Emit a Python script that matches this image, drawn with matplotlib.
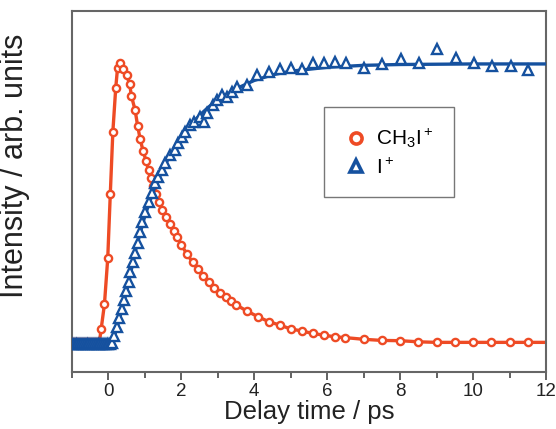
import matplotlib
matplotlib.use("Agg")
import matplotlib.pyplot as plt
from matplotlib.lines import Line2D
from matplotlib.ticker import MultipleLocator

plt.rcParams['font.family'] = ['Liberation Sans', 'DejaVu Sans']
plt.rcParams['mathtext.default'] = 'regular'

RED = '#EE4B25'
BLUE = '#15519F'

# CH3I+ parent ion yield vs. pump-probe delay (normalised)
ch3i_t = [-1.0, -0.95, -0.9, -0.85, -0.8, -0.75, -0.7, -0.65, -0.6, -0.55,
          -0.5, -0.45, -0.4, -0.35, -0.3, -0.25,
          -0.2, -0.11, -0.02, 0.05, 0.12, 0.2, 0.25, 0.33, 0.41, 0.5,
          0.58, 0.63, 0.73, 0.80, 0.87, 0.95, 1.03, 1.10, 1.16, 1.23,
          1.30, 1.38, 1.48, 1.58, 1.70, 1.79, 1.88, 2.0, 2.15, 2.31,
          2.45, 2.60, 2.75, 2.90, 3.05, 3.21, 3.35, 3.51, 3.80, 4.10,
          4.40, 4.70, 5.0, 5.3, 5.6, 5.9, 6.2, 6.5, 7.0, 7.5,
          8.0, 8.5, 9.0, 9.5, 10.0, 10.5, 11.0, 11.5]
ch3i_y = [0.006, 0.006, 0.006, 0.006, 0.006, 0.006, 0.006, 0.006, 0.006, 0.006,
          0.006, 0.006, 0.006, 0.006, 0.006, 0.006,
          0.054, 0.143, 0.307, 0.537, 0.760, 0.919, 0.991, 1.007, 0.986, 0.964,
          0.932, 0.889, 0.839, 0.782, 0.734, 0.692, 0.657, 0.624, 0.596, 0.565,
          0.537, 0.509, 0.480, 0.455, 0.430, 0.406, 0.385, 0.355, 0.323, 0.293,
          0.269, 0.244, 0.221, 0.202, 0.184, 0.170, 0.155, 0.140, 0.118, 0.098,
          0.080, 0.068, 0.054, 0.047, 0.038, 0.032, 0.026, 0.023, 0.017, 0.013,
          0.012, 0.008, 0.006, 0.006, 0.006, 0.006, 0.006, 0.006]

# I+ fragment yield
iplus_t = [-1.0, -0.95, -0.9, -0.85, -0.8, -0.75, -0.7, -0.65, -0.6, -0.55,
           -0.5, -0.45, -0.4, -0.35, -0.3, -0.25, -0.2, -0.15, -0.1, -0.05,
           0.0, 0.05,
           0.09, 0.16, 0.23, 0.29, 0.37, 0.43, 0.49, 0.55, 0.60, 0.67,
           0.74, 0.80, 0.87, 0.92, 1.01, 1.10, 1.19, 1.28, 1.37, 1.47,
           1.56, 1.70, 1.83, 1.92, 2.02, 2.11, 2.25, 2.34, 2.52, 2.61,
           2.70, 2.88, 2.98, 3.12, 3.25, 3.39, 3.53, 3.80, 4.08, 4.40,
           4.70, 5.01, 5.31, 5.60, 5.91, 6.20, 6.52, 7.01, 7.51, 8.01,
           8.52, 9.02, 9.52, 10.03, 10.52, 11.03, 11.52]
iplus_y = [0.0, 0.0, 0.0, 0.0, 0.0, 0.0, 0.0, 0.0, 0.0, 0.0,
           0.0, 0.0, 0.0, 0.0, 0.0, 0.0, 0.0, 0.0, 0.0, 0.0,
           0.0, 0.0,
           0.002, 0.029, 0.060, 0.092, 0.125, 0.158, 0.190, 0.223, 0.259, 0.293,
           0.327, 0.361, 0.402, 0.438, 0.474, 0.510, 0.540, 0.576, 0.600, 0.624,
           0.648, 0.677, 0.695, 0.719, 0.743, 0.761, 0.785, 0.797, 0.815, 0.797,
           0.827, 0.857, 0.875, 0.892, 0.886, 0.904, 0.922, 0.928, 0.964, 0.976,
           0.985, 0.990, 0.985, 1.006, 1.008, 1.012, 1.008, 0.988, 1.004, 1.020,
           1.008, 1.057, 1.024, 1.008, 0.997, 0.997, 0.982]

# fitted I+ rise
iplus_fit_t = [-1.0, 0.1, 0.3, 0.5, 0.75, 1.0, 1.25, 1.5, 1.75, 2.0, 2.25,
               2.5, 2.75, 3.0, 3.5, 4.0, 4.5, 5.0, 6.0, 7.0, 8.0, 10.0, 12.0]
iplus_fit_y = [0.0, 0.0, 0.09, 0.19, 0.34, 0.46, 0.555, 0.63, 0.69, 0.74, 0.785,
               0.82, 0.85, 0.875, 0.915, 0.945, 0.965, 0.978, 0.992, 0.999, 1.002,
               1.004, 1.004]

fig = plt.figure(figsize=(5.56, 4.29), dpi=100)
ax = fig.add_axes([0.1295, 0.133, 0.8525, 0.8415])

ax.plot(ch3i_t + [12.0], ch3i_y + [0.006], color=RED, lw=2.4, zorder=2)
ax.plot(ch3i_t, ch3i_y, ls='none', marker='o', ms=5.2, mew=1.7,
        mec=RED, mfc='white', zorder=3)

ax.plot(iplus_fit_t, iplus_fit_y, color=BLUE, lw=2.4, zorder=4)
ax.plot(iplus_t, iplus_y, ls='none', marker='^', ms=6.6, mew=1.7,
        mec=BLUE, mfc='white', zorder=5)

ax.set_xlim(-1, 12)
ax.set_ylim(-0.1, 1.194)
ax.xaxis.set_major_locator(MultipleLocator(2))
ax.xaxis.set_minor_locator(MultipleLocator(1))
ax.set_yticks([])
ax.tick_params(axis='x', which='major', direction='out', length=6, width=1.3,
               color='#555555', labelsize=13.5, pad=2, labelcolor='#222222')
ax.tick_params(axis='x', which='minor', direction='out', length=4, width=1.3,
               color='#555555')
for sp in ax.spines.values():
    sp.set_color('#666666')
    sp.set_linewidth(1.5)

ax.set_xlabel('Delay time / ps', fontsize=18.5, color='#222222')
ax.xaxis.set_label_coords(0.5, -0.079)
ax.set_ylabel('Intensity / arb. units', fontsize=22, color='#222222')
ax.yaxis.set_label_coords(-0.088, 0.57)

handles = [
    Line2D([], [], ls='none', marker='o', ms=8, mew=2.6, mec=RED, mfc='white'),
    Line2D([], [], ls='none', marker='^', ms=9, mew=2.6, mec=BLUE, mfc='white'),
]
leg = ax.legend(handles, ['CH$_3$I$^+$', 'I$^+$'], loc='upper left',
                bbox_to_anchor=(0.532, 0.734), fontsize=15, frameon=True,
                fancybox=False, borderpad=0.95, handletextpad=0.35,
                labelspacing=0.35, handlelength=1.2, borderaxespad=0)
leg.get_frame().set_edgecolor('#555555')
leg.get_frame().set_linewidth(1.0)

fig.savefig('out.png', dpi=100)
